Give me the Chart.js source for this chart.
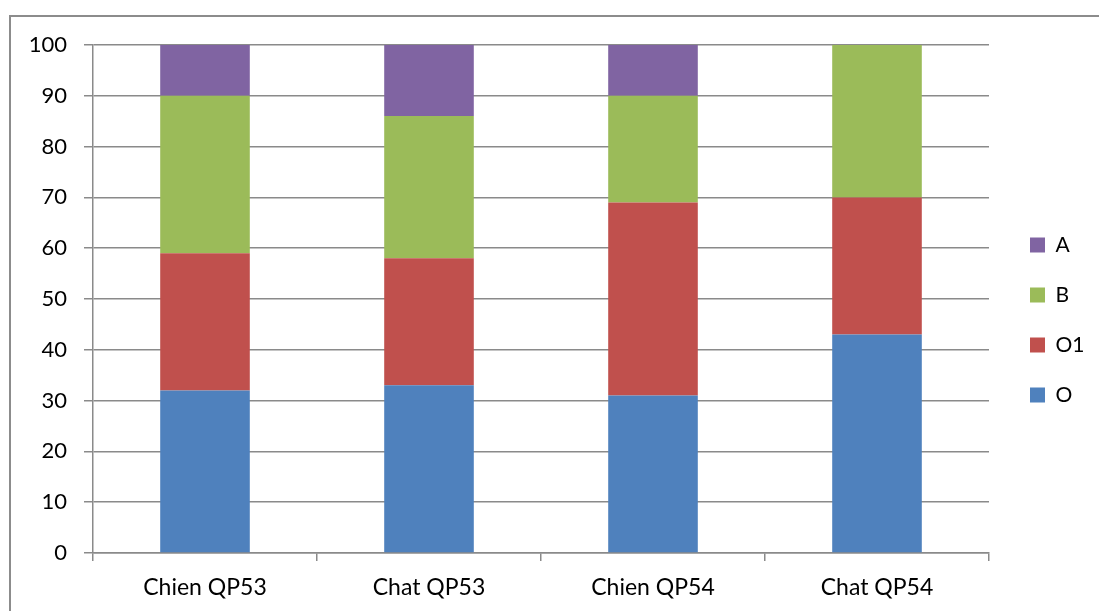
<!DOCTYPE html>
<html>
<head>
<meta charset="utf-8">
<style>
  html, body { margin: 0; padding: 0; background: #ffffff; }
  #wrap { position: relative; width: 1099px; height: 611px; }
  canvas { display: block; }
</style>
<script src="https://cdn.jsdelivr.net/npm/chart.js@4/dist/chart.umd.min.js"></script>
</head>
<body>
<div id="wrap"><canvas id="chart" width="1099" height="611"></canvas></div>
<script>
// Categories and stacked series (percent shares)
const categories = ['Chien QP53', 'Chat QP53', 'Chien QP54', 'Chat QP54'];
const seriesO  = [32, 33, 31, 43];
const seriesO1 = [27, 25, 38, 27];
const seriesB  = [31, 28, 21, 30];
const seriesA  = [10, 14, 10, 0];
const yTicks   = [0, 10, 20, 30, 40, 50, 60, 70, 80, 90, 100];

const FONT = 'Lato, "Open Sans", "DejaVu Sans", sans-serif';
const GRID = '#8a8a8a';

// Outer frame around the whole chart
const framePlugin = {
  id: 'frame',
  beforeDraw(chart) {
    const ctx = chart.ctx;
    ctx.save();
    ctx.fillStyle = '#ffffff';
    ctx.fillRect(0, 0, chart.width, chart.height);
    ctx.strokeStyle = '#8c8c8c';
    ctx.lineWidth = 2;
    ctx.strokeRect(10, 16, chart.width + 20, chart.height + 20);
    ctx.restore();
  }
};

// Fixed-width legend column on the right, nudged into place
const legendPlace = {
  id: 'legendPlace',
  beforeLayout(chart) {
    const lg = chart.legend;
    if (lg && !lg._fixedWidth) {
      const fit = lg.fit;
      lg.fit = function () { fit.call(this); this.width = 110; };
      lg._fixedWidth = true;
    }
  },
  afterLayout(chart) {
    const lg = chart.legend;
    if (!lg) return;
    const pad = lg.options.labels.padding;
    lg.left = 1030 - pad;
    lg.right = lg.left + lg.width;
    lg.top -= 8;
    lg.bottom -= 8;
  }
};

const ds = (label, data, color) => ({
  label, data, backgroundColor: color, borderWidth: 0,
  barPercentage: 0.4, categoryPercentage: 1.0
});

new Chart(document.getElementById('chart'), {
  type: 'bar',
  data: {
    labels: categories,
    datasets: [
      ds('O', seriesO, '#4F81BD'),
      ds('O1', seriesO1, '#C0504D'),
      ds('B', seriesB, '#9BBB59'),
      ds('A', seriesA, '#8064A2')
    ]
  },
  options: {
    responsive: false,
    animation: false,
    layout: { padding: { top: 45, left: 0, right: 0, bottom: 0 } },
    plugins: {
      tooltip: { enabled: false },
      legend: {
        position: 'right',
        reverse: true,
        labels: {
          boxWidth: 15,
          boxHeight: 15,
          padding: 29,
          color: '#000000',
          font: { family: FONT, size: 21 }
        }
      }
    },
    scales: {
      x: {
        stacked: true,
        grid: {
          offset: true,
          drawOnChartArea: false,
          drawTicks: true,
          tickLength: 8,
          color: GRID,
          lineWidth: 1.5
        },
        border: { color: GRID, width: 1.5 },
        ticks: { color: '#000000', padding: 13, font: { family: FONT, size: 23 } },
        afterFit(scale) { scale.height = 58; }
      },
      y: {
        stacked: true,
        min: 0,
        max: 100,
        afterBuildTicks(scale) { scale.ticks = yTicks.map(v => ({ value: v })); },
        grid: { color: GRID, lineWidth: 1.5, tickLength: 9 },
        border: { color: GRID, width: 1.5 },
        ticks: { color: '#000000', padding: 17, font: { family: FONT, size: 22 } },
        afterFit(scale) { scale.width = 93; }
      }
    }
  },
  plugins: [framePlugin, legendPlace]
});
</script>
</body>
</html>
